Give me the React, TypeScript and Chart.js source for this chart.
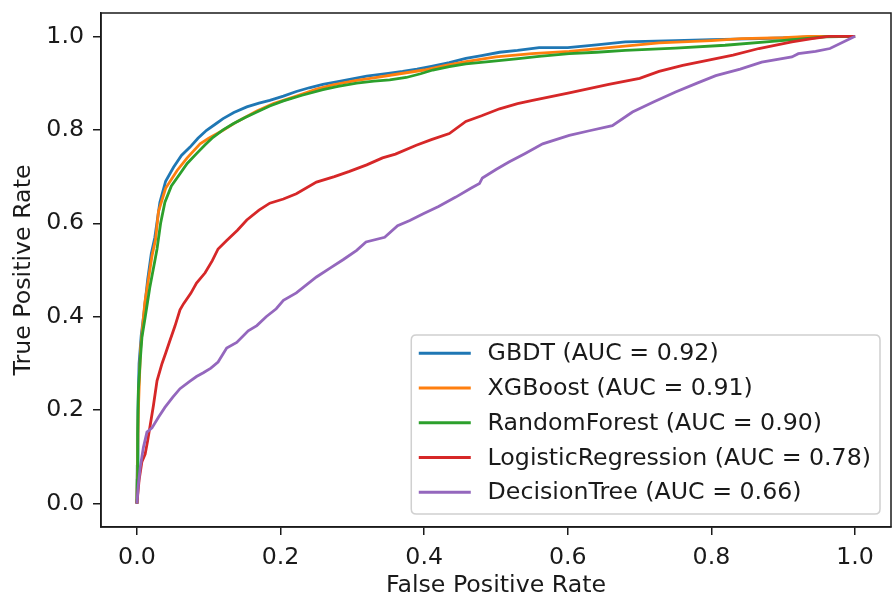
import React, { useEffect, useRef } from "react";
import { Chart, registerables } from "chart.js";

Chart.register(...registerables);

const FONT = "'DejaVu Sans', 'Liberation Sans', sans-serif";

const xTickValues = [0, 0.2, 0.4, 0.6, 0.8, 1.0];
const yTickValues = [0, 0.2, 0.4, 0.6, 0.8, 1.0];

const seriesLabels = [
  "GBDT (AUC = 0.92)",
  "XGBoost (AUC = 0.91)",
  "RandomForest (AUC = 0.90)",
  "LogisticRegression (AUC = 0.78)",
  "DecisionTree (AUC = 0.66)",
];
const seriesColors = ["#1f77b4", "#ff7f0e", "#2ca02c", "#d62728", "#9467bd"];

const gbdtFpr = [0, 0.0005, 0.0015, 0.003, 0.006, 0.010, 0.015, 0.020, 0.025, 0.032, 0.04, 0.051, 0.062, 0.074, 0.085, 0.097, 0.11, 0.12, 0.135, 0.153, 0.17, 0.185, 0.204, 0.222, 0.24, 0.259, 0.28, 0.3, 0.32, 0.35, 0.37, 0.39, 0.41, 0.435, 0.458, 0.48, 0.505, 0.53, 0.56, 0.6, 0.64, 0.68, 0.75, 0.8, 0.866, 0.91, 0.958, 1.0];
const gbdtTpr = [0, 0.08, 0.2, 0.3, 0.36, 0.41, 0.48, 0.535, 0.57, 0.645, 0.69, 0.72, 0.745, 0.763, 0.782, 0.799, 0.813, 0.824, 0.837, 0.849, 0.857, 0.863, 0.872, 0.882, 0.89, 0.897, 0.903, 0.909, 0.915, 0.921, 0.925, 0.93, 0.936, 0.944, 0.953, 0.959, 0.966, 0.97, 0.976, 0.976, 0.982, 0.988, 0.991, 0.993, 0.995, 0.997, 1.0, 1.0];

const xgbFpr = [0, 0.001, 0.002, 0.005, 0.008, 0.011, 0.016, 0.021, 0.026, 0.030, 0.04, 0.056, 0.07, 0.088, 0.1, 0.12, 0.14, 0.167, 0.19, 0.222, 0.25, 0.273, 0.306, 0.33, 0.366, 0.4, 0.43, 0.458, 0.5, 0.55, 0.602, 0.65, 0.727, 0.8, 0.842, 0.9, 0.935, 1.0];
const xgbTpr = [0, 0.1, 0.2, 0.33, 0.38, 0.43, 0.48, 0.53, 0.565, 0.625, 0.675, 0.713, 0.74, 0.77, 0.782, 0.799, 0.818, 0.84, 0.856, 0.872, 0.887, 0.896, 0.906, 0.911, 0.92, 0.928, 0.938, 0.946, 0.956, 0.963, 0.968, 0.975, 0.986, 0.991, 0.995, 0.997, 1.0, 1.0];

const rfFpr = [0, 0.0005, 0.001, 0.002, 0.0046, 0.007, 0.0115, 0.018, 0.025, 0.028, 0.033, 0.039, 0.048, 0.06, 0.07, 0.083, 0.095, 0.106, 0.12, 0.134, 0.15, 0.167, 0.185, 0.204, 0.23, 0.259, 0.28, 0.306, 0.33, 0.352, 0.375, 0.395, 0.412, 0.435, 0.458, 0.49, 0.528, 0.56, 0.602, 0.64, 0.68, 0.75, 0.819, 0.889, 0.93, 0.958, 1.0];
const rfTpr = [0, 0.05, 0.15, 0.242, 0.306, 0.356, 0.399, 0.463, 0.52, 0.545, 0.6, 0.645, 0.68, 0.706, 0.728, 0.749, 0.768, 0.784, 0.8, 0.813, 0.826, 0.838, 0.851, 0.862, 0.874, 0.886, 0.893, 0.9, 0.904, 0.907, 0.912, 0.92, 0.928, 0.935, 0.941, 0.946, 0.952, 0.957, 0.963, 0.966, 0.97, 0.975, 0.981, 0.99, 0.995, 0.999, 1.0];

const lrFpr = [0, 0.003, 0.007, 0.0115, 0.015, 0.018, 0.023, 0.028, 0.035, 0.04, 0.046, 0.053, 0.06, 0.065, 0.075, 0.083, 0.095, 0.105, 0.113, 0.125, 0.14, 0.153, 0.17, 0.185, 0.204, 0.222, 0.25, 0.275, 0.296, 0.32, 0.342, 0.36, 0.389, 0.41, 0.435, 0.458, 0.48, 0.505, 0.53, 0.551, 0.602, 0.657, 0.7, 0.727, 0.76, 0.796, 0.83, 0.866, 0.912, 0.94, 0.963, 1.0];
const lrTpr = [0, 0.05, 0.09, 0.106, 0.135, 0.163, 0.21, 0.263, 0.3, 0.322, 0.349, 0.38, 0.415, 0.428, 0.45, 0.472, 0.494, 0.52, 0.545, 0.563, 0.585, 0.607, 0.628, 0.643, 0.652, 0.663, 0.688, 0.7, 0.711, 0.725, 0.74, 0.748, 0.767, 0.779, 0.792, 0.818, 0.83, 0.845, 0.856, 0.863, 0.879, 0.897, 0.91, 0.925, 0.938, 0.949, 0.96, 0.974, 0.988, 0.995, 1.0, 1.0];

const dtFpr = [0, 0.002, 0.0046, 0.009, 0.014, 0.021, 0.03, 0.039, 0.05, 0.06, 0.074, 0.083, 0.0925, 0.103, 0.113, 0.125, 0.139, 0.155, 0.167, 0.18, 0.194, 0.204, 0.222, 0.25, 0.27, 0.287, 0.306, 0.319, 0.345, 0.363, 0.38, 0.398, 0.42, 0.444, 0.465, 0.477, 0.481, 0.5, 0.518, 0.54, 0.565, 0.602, 0.63, 0.662, 0.69, 0.72, 0.75, 0.78, 0.806, 0.84, 0.870, 0.912, 0.921, 0.945, 0.965, 1.0];
const dtTpr = [0, 0.04, 0.077, 0.12, 0.153, 0.162, 0.185, 0.206, 0.228, 0.246, 0.262, 0.272, 0.28, 0.29, 0.303, 0.333, 0.345, 0.37, 0.381, 0.4, 0.417, 0.435, 0.451, 0.485, 0.505, 0.522, 0.542, 0.56, 0.57, 0.595, 0.606, 0.62, 0.636, 0.656, 0.675, 0.685, 0.697, 0.715, 0.731, 0.749, 0.77, 0.788, 0.798, 0.809, 0.838, 0.86, 0.881, 0.9, 0.916, 0.93, 0.945, 0.956, 0.963, 0.968, 0.974, 1.0];

const seriesFpr = [gbdtFpr, xgbFpr, rfFpr, lrFpr, dtFpr];
const seriesTpr = [gbdtTpr, xgbTpr, rfTpr, lrTpr, dtTpr];

const FS = 23.7;
const INK = "#1a1a1a";

const framePlugin = {
  id: "frameAndLegend",
  afterDraw(chart: any) {
    const { ctx, chartArea: ca } = chart;
    ctx.save();
    ctx.strokeStyle = INK;
    ctx.lineWidth = 1.5;
    ctx.strokeRect(ca.left, ca.top, ca.right - ca.left, ca.bottom - ca.top);

    // legend (lower right, inside axes)
    ctx.font = `${FS}px ${FONT}`;
    const ds = chart.data.datasets;
    let maxW = 0;
    ds.forEach((d: any) => {
      maxW = Math.max(maxW, ctx.measureText(d.label).width);
    });
    const boxRight = ca.right - 11;
    const boxBottom = ca.bottom - 13;
    const rowH = 34.75;
    const boxH = 179;
    const boxTop = boxBottom - boxH;
    const boxLeft = boxRight - (maxW + 76.3 + 9);
    const r = 5;
    ctx.beginPath();
    ctx.moveTo(boxLeft + r, boxTop);
    ctx.lineTo(boxRight - r, boxTop);
    ctx.quadraticCurveTo(boxRight, boxTop, boxRight, boxTop + r);
    ctx.lineTo(boxRight, boxBottom - r);
    ctx.quadraticCurveTo(boxRight, boxBottom, boxRight - r, boxBottom);
    ctx.lineTo(boxLeft + r, boxBottom);
    ctx.quadraticCurveTo(boxLeft, boxBottom, boxLeft, boxBottom - r);
    ctx.lineTo(boxLeft, boxTop + r);
    ctx.quadraticCurveTo(boxLeft, boxTop, boxLeft + r, boxTop);
    ctx.closePath();
    ctx.fillStyle = "rgba(255,255,255,0.8)";
    ctx.fill();
    ctx.strokeStyle = "#d0d0d0";
    ctx.lineWidth = 1.5;
    ctx.stroke();

    ds.forEach((d: any, i: number) => {
      const cy = boxTop + 18.3 + i * rowH;
      ctx.strokeStyle = d.borderColor;
      ctx.lineWidth = 3;
      ctx.beginPath();
      ctx.moveTo(boxLeft + 7.5, cy);
      ctx.lineTo(boxLeft + 59.5, cy);
      ctx.stroke();
      ctx.fillStyle = INK;
      ctx.textAlign = "left";
      ctx.textBaseline = "middle";
      ctx.fillText(d.label, boxLeft + 76.3, cy + 1);
    });
    ctx.restore();
  },
};

export default function App() {
  const ref = useRef<HTMLCanvasElement | null>(null);

  useEffect(() => {
    if (!ref.current) return;
    Chart.defaults.font.family = FONT;
    const datasets = seriesLabels.map((label, i) => ({
      label,
      data: seriesFpr[i].map((x, k) => ({ x, y: seriesTpr[i][k] })),
      borderColor: seriesColors[i],
      backgroundColor: seriesColors[i],
      borderWidth: 2.8,
      pointRadius: 0,
      tension: 0,
      fill: false,
      order: seriesLabels.length - i,
    }));

    const chart = new Chart(ref.current, {
      type: "line",
      data: { datasets },
      plugins: [framePlugin],
      options: {
        animation: false,
        responsive: false,
        parsing: false as any,
        layout: { padding: { left: 0, top: 13, right: 2, bottom: 0 } },
        plugins: {
          legend: { display: false },
          tooltip: { enabled: false },
        },
        scales: {
          x: {
            type: "linear",
            min: -0.05,
            max: 1.05,
            afterBuildTicks: (s: any) => {
              s.ticks = xTickValues.map((v) => ({ value: v }));
            },
            afterFit: (s: any) => {
              s.height = 67;
              s.paddingLeft = 0;
              s.paddingRight = 0;
            },
            ticks: {
              autoSkip: false,
              maxRotation: 0,
              padding: 9,
              color: INK,
              font: { size: FS, family: FONT },
              callback: (v: any) => Number(v).toFixed(1),
            },
            grid: {
              drawOnChartArea: false,
              drawTicks: true,
              tickLength: 8,
              color: INK,
              lineWidth: 1.5,
            },
            border: { display: true, color: INK, width: 1.5 },
            title: {
              display: true,
              text: "False Positive Rate",
              color: INK,
              font: { size: FS, family: FONT, lineHeight: 1 },
              padding: { top: 0, bottom: -4 },
            },
          },
          y: {
            type: "linear",
            min: -0.05,
            max: 1.05,
            afterBuildTicks: (s: any) => {
              s.ticks = yTickValues.map((v) => ({ value: v }));
            },
            afterFit: (s: any) => {
              s.width = 101;
              s.paddingTop = 0;
              s.paddingBottom = 0;
            },
            ticks: {
              autoSkip: false,
              padding: 9,
              color: INK,
              font: { size: FS, family: FONT },
              callback: (v: any) => Number(v).toFixed(1),
            },
            grid: {
              drawOnChartArea: false,
              drawTicks: true,
              tickLength: 8,
              color: INK,
              lineWidth: 1.5,
            },
            border: { display: true, color: INK, width: 1.5 },
            title: {
              display: true,
              text: "True Positive Rate",
              color: INK,
              font: { size: FS, family: FONT, lineHeight: 1 },
              padding: { top: 12, bottom: 0 },
            },
          },
        },
      },
    });
    return () => chart.destroy();
  }, []);

  return (
    <div style={{ position: "absolute", left: 0, top: 0, width: 893, height: 594, background: "#fff" }}>
      <canvas ref={ref} width={893} height={594} style={{ display: "block" }} />
    </div>
  );
}
